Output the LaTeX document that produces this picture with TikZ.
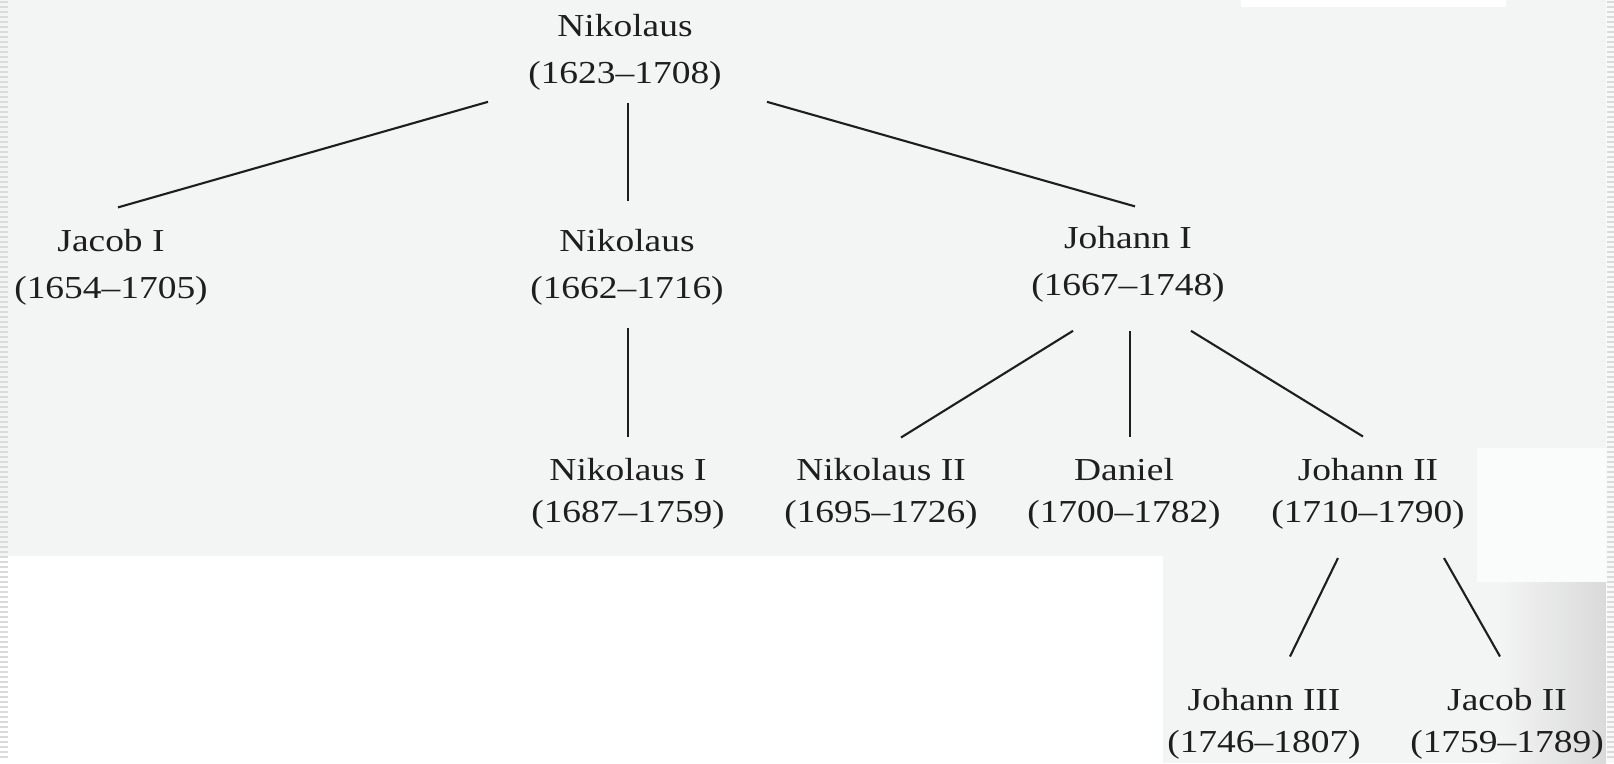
\documentclass[tikz,border=0pt]{standalone}
\usepackage{fontspec}
\setmainfont{Liberation Serif}[FakeStretch=1.17]
\usetikzlibrary{calc}
\definecolor{bg}{RGB}{243,244,244}
\definecolor{edgegray}{RGB}{218,218,218}
\definecolor{ink}{RGB}{30,30,30}
\newcommand\personfont{\fontsize{9.1pt}{13.37pt}\selectfont}
\newcommand\personfonttight{\fontsize{9.1pt}{12.1pt}\selectfont}
\newcommand\personlabel[2]{\begin{tabular}[t]{@{}c@{}}#1\\#2\end{tabular}}
\begin{document}
\begin{tikzpicture}[x=0.01cm,y=-0.01cm,
  person/.style={anchor=base, inner sep=0pt, text=ink, font=\personfont},
  tight/.style={font=\personfonttight},
  link/.style={draw=ink, line width=0.6pt}]
\useasboundingbox (0,0) rectangle (1614,763);
% scanned page background
\fill[bg] (0,0) rectangle (1614,763);
\fill[white] (0,556) rectangle (1163,763);
\fill[white] (1241,0) rectangle (1506,7);
\fill[white!60!bg] (1477,448) rectangle (1614,582);
\shade[left color=bg, right color=edgegray] (1500,582) rectangle (1606,763);
\fill[white!50!bg] (1606,0) rectangle (1614,763);
\foreach \yy in {2,7,...,760} {
  \draw[edgegray, line width=0.3pt] (0,\yy) -- (8,\yy);
  \draw[edgegray, line width=0.3pt] (1607,\yy) -- (1614,\yy);
}

% people
\node[person] (n0)   at (625,36)  {\personlabel{Nikolaus}{(1623--1708)}};
\node[person] (jac1) at (111,251) {\personlabel{Jacob I}{(1654--1705)}};
\node[person] (n1)   at (627,251) {\personlabel{Nikolaus}{(1662--1716)}};
\node[person] (jo1)  at (1128,248) {\personlabel{Johann I}{(1667--1748)}};
\node[person,tight] (nk1)  at (628,480) {\personlabel{Nikolaus I}{(1687--1759)}};
\node[person,tight] (nk2)  at (881,480) {\personlabel{Nikolaus II}{(1695--1726)}};
\node[person,tight] (dan)  at (1124,480) {\personlabel{Daniel}{(1700--1782)}};
\node[person,tight] (jo2)  at (1368,480) {\personlabel{Johann II}{(1710--1790)}};
\node[person,tight] (jo3)  at (1264,710) {\personlabel{Johann III}{(1746--1807)}};
\node[person,tight] (jac2) at (1507,710) {\personlabel{Jacob II}{(1759--1789)}};

% connectors
\draw[link] ([shift={(-137,4)}]n0.south) -- ([shift={(7,-10)}]jac1.north);
\draw[link] ([shift={(3,5)}]n0.south) -- ([shift={(1,-16)}]n1.north);
\draw[link] ([shift={(142,4)}]n0.south) -- ([shift={(7,-8)}]jo1.north);
\draw[link] ([shift={(1,15)}]n1.south) -- ([shift={(0,-13)}]nk1.north);
\draw[link] ([shift={(-55,21)}]jo1.south) -- ([shift={(20,-12)}]nk2.north);
\draw[link] ([shift={(2,21)}]jo1.south) -- ([shift={(6,-13)}]dan.north);
\draw[link] ([shift={(63,21)}]jo1.south) -- ([shift={(-5,-13)}]jo2.north);
\draw[link] ([shift={(-30,22)}]jo2.south) -- ([shift={(26,-23)}]jo3.north);
\draw[link] ([shift={(76,22)}]jo2.south) -- ([shift={(-7,-23)}]jac2.north);
\end{tikzpicture}
\end{document}
